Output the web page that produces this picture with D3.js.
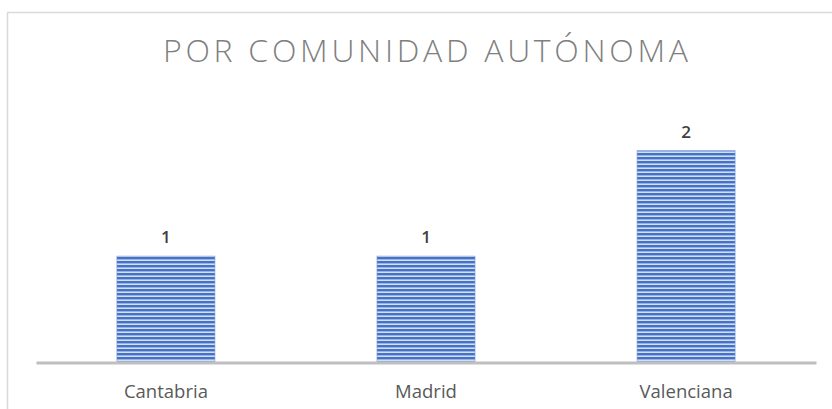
<!DOCTYPE html>
<html>
<head>
<meta charset="utf-8">
<script src="https://cdn.jsdelivr.net/npm/d3@7"></script>
<style>
  html, body { margin: 0; padding: 0; background: #fff; }
  svg { display: block; }
</style>
</head>
<body>
<svg id="chart" width="832" height="409"></svg>
<script>
const categories = ["Cantabria", "Madrid", "Valenciana"];
const values = [1, 1, 2];
const title = "POR COMUNIDAD AUTÓNOMA";

const W = 832, H = 409;
const svg = d3.select("#chart");

// chart frame
svg.append("rect")
  .attr("x", 7.5).attr("y", 12.5)
  .attr("width", 840).attr("height", 420)
  .attr("fill", "#fff").attr("stroke", "#d9d9d9").attr("stroke-width", 1.5);

// stripe pattern
const defs = svg.append("defs");
const pat = defs.append("pattern")
  .attr("id", "stripes").attr("patternUnits", "userSpaceOnUse")
  .attr("width", 8).attr("height", 4).attr("y", 1);
pat.append("rect").attr("width", 8).attr("height", 4).attr("fill", "#4472c4");
pat.append("rect").attr("y", 2).attr("width", 8).attr("height", 1).attr("fill", "#98b3e3");
pat.append("rect").attr("y", 3).attr("width", 8).attr("height", 1).attr("fill", "#d3def3");

const x = d3.scaleBand().domain(categories).range([36, 816]).paddingInner(0.623).paddingOuter(0.311);
const y = d3.scaleLinear().domain([0, 2.5]).range([361.5, 98]);

// title
svg.append("text")
  .attr("x", (163 + 688) / 2).attr("y", 62)
  .attr("text-anchor", "middle")
  .attr("font-family", "'Open Sans', sans-serif")
  .attr("font-size", 32).attr("font-weight", 300)
  .attr("fill", "#7f7f7f")
  .attr("textLength", 525).attr("lengthAdjust", "spacing")
  .text(title);

// bars
svg.append("g").selectAll("rect").data(values).join("rect")
  .attr("x", (d, i) => x(categories[i]))
  .attr("y", d => y(d))
  .attr("width", x.bandwidth())
  .attr("height", d => y(0) - y(d))
  .attr("fill", "url(#stripes)")
  .attr("stroke", "#7b9bd6").attr("stroke-width", 0.6);

// value labels
svg.append("g").selectAll("text").data(values).join("text")
  .attr("x", (d, i) => x(categories[i]) + x.bandwidth() / 2)
  .attr("y", d => y(d) - 13)
  .attr("text-anchor", "middle")
  .attr("font-family", "'Open Sans', sans-serif")
  .attr("font-size", 17).attr("font-weight", 600)
  .attr("fill", "#404040")
  .text(d => d);

// x axis
const xAxis = d3.axisBottom(x).tickSize(0).tickPadding(22);
const gx = svg.append("g").attr("transform", `translate(0,${y(0) + 1})`).call(xAxis);
gx.select(".domain").attr("stroke", "#bfbfbf").attr("stroke-width", 3);
gx.selectAll("text")
  .attr("font-family", "'Open Sans', sans-serif")
  .attr("font-size", 18.5)
  .attr("fill", "#595959");
</script>
</body>
</html>
